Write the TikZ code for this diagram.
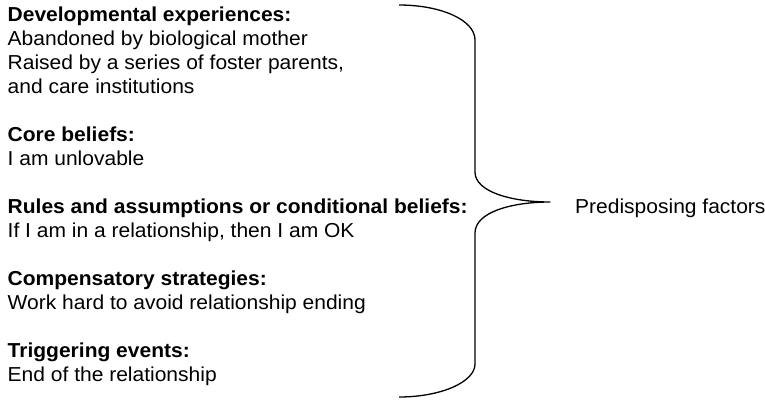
\documentclass[tikz,border=0pt]{standalone}
\usepackage{fontspec}
\setmainfont[FakeStretch=1.04]{Liberation Sans}
\begin{document}
\begin{tikzpicture}[x=1pt,y=-1pt,
  txt/.style={anchor=base west,inner sep=0pt,font=\fontsize{20.2}{24}\selectfont},
  head/.style={txt,font=\fontsize{20.2}{24}\selectfont\bfseries},
  bracepath/.style={line width=1.3pt,line join=round}]
\useasboundingbox (0,0) rectangle (765,400);
\node[head] (h1) at (7.5,21) {Developmental experiences:};
\node[txt] (t1a) at (7.5,45) {Abandoned by biological mother};
\node[txt] (t1b) at (7.5,69) {Raised by a series of foster parents,};
\node[txt] (t1c) at (7.5,93) {and care institutions};
\node[head] (h2) at (7.5,141) {Core beliefs:};
\node[txt] (t2) at (7.5,165) {I am unlovable};
\node[head] (h3) at (7.5,213) {Rules and assumptions or conditional beliefs:};
\node[txt] (t3) at (7.5,237) {If I am in a relationship, then I am OK};
\node[head] (h4) at (7.5,285) {Compensatory strategies:};
\node[txt] (t4) at (7.5,309) {Work hard to avoid relationship ending};
\node[head] (h5) at (7.5,357) {Triggering events:};
\node[txt] (t5) at (7.5,381) {End of the relationship};
\node[txt] (pf) at (575,213) {Predisposing factors};
\coordinate (btop) at (399,5);
\coordinate (btip) at (550,202);
\coordinate (bbot) at (399,397);
\draw[bracepath] (btop) .. controls (441,5) and (475,20) .. (475,40)
  -- (475,172) .. controls (475,192) and (512,202) .. (btip)
  .. controls (512,202) and (475,212) .. (475,233)
  -- (475,364) .. controls (475,382) and (441,397) .. (bbot);
\end{tikzpicture}
\end{document}
